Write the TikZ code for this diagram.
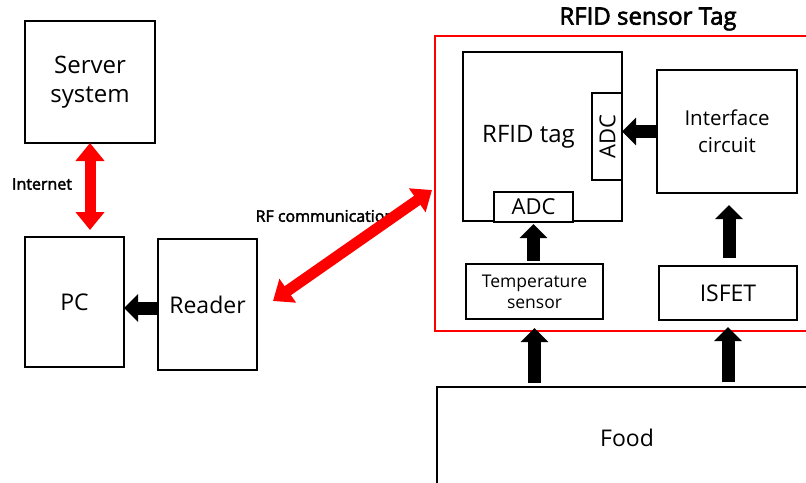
\documentclass[tikz,border=0pt]{standalone}
\usepackage{fontspec}
\setmainfont{Open Sans}[AutoFakeBold=2.5]
\usetikzlibrary{arrows.meta}
\tikzset{
  box/.style={draw=black, line width=2.2pt, inner sep=0pt, outer sep=0pt, align=center, font=\fontsize{23}{27}\selectfont},
  redbox/.style={draw=red, line width=2pt, inner sep=0pt, outer sep=0pt},
  blk/.style={black, line width=13pt, -{Triangle[length=14pt,width=27pt]}},
  redarr/.style={red, line width=11pt, {Triangle[length=18pt,width=28pt]}-{Triangle[length=18pt,width=28pt]}},
  lbl/.style={font=\bfseries\fontsize{16}{18}\selectfont, inner sep=0pt}
}
\begin{document}
\begin{tikzpicture}[x=1pt,y=-1pt]
\useasboundingbox (0,0) rectangle (806,482);
% left side
\node[box, minimum width=130pt, minimum height=122pt, font=\fontsize{24}{29}\selectfont] (server) at (90,82) {Server\\system};
\node[box, minimum width=99pt, minimum height=130pt] (pc) at (74.5,302) {PC};
\node[box, minimum width=99pt, minimum height=131pt] (reader) at (207.5,304.5) {Reader};
% tag frame
\node[redbox, minimum width=395pt, minimum height=295pt] (tag) at (632.5,183.5) {};
\node[font=\bfseries\fontsize{24}{26}\selectfont, inner sep=0pt] (title) at (648,19) {RFID sensor Tag};
\node[box, minimum width=159pt, minimum height=169pt, label={[xshift=-14pt,font=\fontsize{24}{28}\selectfont]center:RFID tag}] (rfid) at (542.5,136.5) {};
\node[box, fill=white, minimum width=30pt, minimum height=87pt] (adcr) at (607,136.5) {};
\node[font=\fontsize{22}{24}\selectfont, rotate=90, inner sep=0pt] (adcrt) at ([xshift=0.5pt]adcr) {ADC};
\node[box, fill=white, minimum width=79pt, minimum height=30pt, font=\fontsize{22}{24}\selectfont] (adcb) at (533.5,207) {ADC};
\node[box, minimum width=140pt, minimum height=123pt, font=\fontsize{20.5}{27}\selectfont] (iface) at (727,131.5) {Interface\\circuit};
\node[box, minimum width=137pt, minimum height=55pt, font=\fontsize{17.5}{21}\selectfont] (temp) at (534.5,291.5) {Temperature\\sensor};
\node[box, minimum width=138pt, minimum height=54pt] (isfet) at (728,293) {ISFET};
\node[box, minimum width=380pt, minimum height=103pt] (food) at (627,438.5) {\raisebox{2pt}{Food}};
% labels
\node[lbl] (inet) at (42,184) {Internet};
\node[lbl] (rfc) at (325,216) {RF communication};
% red connectors
\draw[redarr] (server.south) -- ([yshift=7pt]server.south |- pc.north);
\coordinate (rfA) at (273,301);
\coordinate (rfB) at (432,190);
\draw[redarr] (rfA) -- (rfB);
% black connectors
\draw[blk] ([yshift=-3.5pt]reader.west) -- ([yshift=-3.5pt]reader.west -| pc.east);
\draw[blk] (iface.west) -- (iface.west -| adcr.east);
\draw[blk, shorten <=3pt, shorten >=2pt] (temp.north -| adcb.south) -- (adcb.south);
\draw[blk, shorten <=8pt, shorten >=12pt] ([xshift=1pt]isfet.north) -- ([xshift=1pt]isfet.north |- iface.south);
\draw[blk, shorten <=4pt, shorten >=9pt] (food.north -| temp.south) -- (temp.south);
\draw[blk, shorten <=5pt, shorten >=7pt] (food.north -| isfet.south) -- (isfet.south);
\end{tikzpicture}
\end{document}
